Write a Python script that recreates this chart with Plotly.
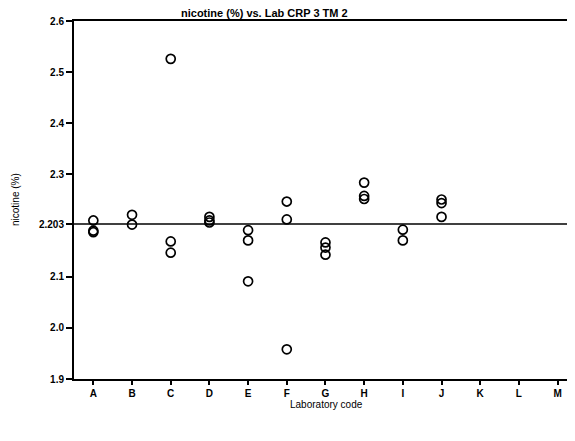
import plotly.graph_objects as go

labs = ["A", "B", "C", "D", "E", "F", "G", "H", "I", "J", "K", "L", "M"]
lab_values = {
    "A": [2.210, 2.190, 2.187],
    "B": [2.221, 2.202],
    "C": [2.526, 2.169, 2.147],
    "D": [2.217, 2.210, 2.206],
    "E": [2.191, 2.171, 2.091],
    "F": [2.247, 2.212, 1.958],
    "G": [2.167, 2.157, 2.143],
    "H": [2.284, 2.258, 2.252],
    "I": [2.192, 2.171],
    "J": [2.251, 2.244, 2.217],
    "K": [],
    "L": [],
    "M": [],
}
mean_value = 2.203
y_tickvals = [1.9, 2.0, 2.1, 2.203, 2.3, 2.4, 2.5, 2.6]
y_ticktext = ["1.9", "2.0", "2.1", "2.203", "2.3", "2.4", "2.5", "2.6"]

xs, ys = [], []
for lab in labs:
    for v in lab_values[lab]:
        xs.append(lab)
        ys.append(v)

font_family = "Liberation Sans, Arial, sans-serif"

# page body has an 8px default margin, so the figure is sized/offset to compensate
fig = go.Figure()
fig.add_trace(go.Scatter(
    x=xs, y=ys, mode="markers",
    marker=dict(symbol="circle-open", size=9, color="black", line=dict(width=1.7, color="black")),
    showlegend=False,
))

fig.add_shape(type="line", xref="paper", x0=0, x1=1, yref="y", y0=mean_value, y1=mean_value,
              line=dict(color="black", width=1.5))

fig.update_layout(
    width=567, height=433,
    margin=dict(l=66, r=0, t=13, b=62, autoexpand=False),
    plot_bgcolor="white", paper_bgcolor="white",
    font=dict(family=font_family, size=10, color="black"),
    xaxis=dict(
        type="category", categoryorder="array", categoryarray=labs,
        range=[-0.5, 12.45],
        showline=True, linewidth=2, linecolor="black", mirror=True,
        ticks="outside", ticklen=4, tickwidth=2, tickcolor="black",
        showgrid=False, zeroline=False, automargin=False,
        tickfont=dict(family=font_family, size=10, color="black", weight="bold"),
    ),
    yaxis=dict(
        range=[1.9, 2.6],
        tickvals=y_tickvals, ticktext=y_ticktext,
        showline=True, linewidth=2, linecolor="black",
        ticks="outside", ticklen=6, tickwidth=2, tickcolor="black",
        showgrid=False, zeroline=False, automargin=False,
        tickfont=dict(family=font_family, size=10, color="black", weight="bold"),
    ),
    annotations=[
        dict(text="<b>nicotine (%) vs. Lab CRP 3 TM 2</b>", xref="paper", yref="paper",
             x=(265 - 75) / 501, y=(379 - 13) / 358, xanchor="center", yanchor="middle",
             showarrow=False, font=dict(family=font_family, size=11, color="black")),
        dict(text="nicotine (%)", xref="paper", yref="paper",
             x=(16 - 75) / 501, y=(379 - 200) / 358, xanchor="center", yanchor="middle",
             textangle=-90, showarrow=False, font=dict(family=font_family, size=10, color="black")),
        dict(text="Laboratory code", xref="paper", yref="paper",
             x=(327 - 75) / 501, y=(379 - 404) / 358, xanchor="center", yanchor="middle",
             showarrow=False, font=dict(family=font_family, size=10, color="black")),
    ],
)

fig.write_html("out.html")
